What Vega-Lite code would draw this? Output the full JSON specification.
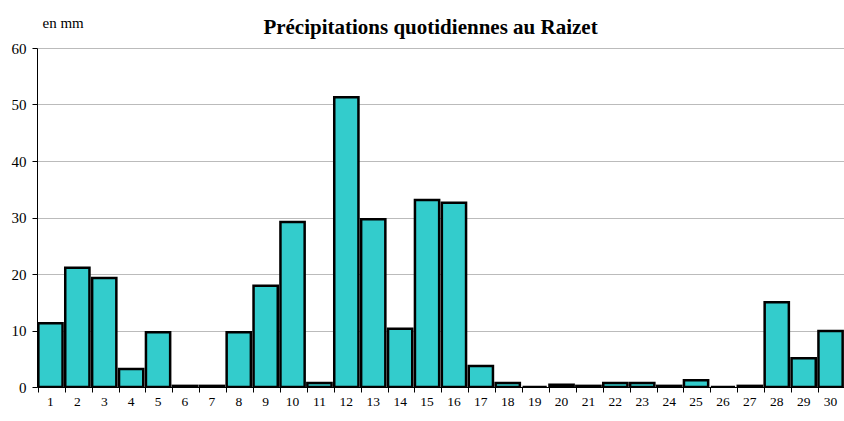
{
  "$schema": "https://vega.github.io/schema/vega-lite/v6.json",
  "width": 807,
  "height": 339,
  "autosize": {"type": "none"},
  "padding": {"left": 37, "top": 48, "right": 0, "bottom": 34},
  "background": "white",
  "config": {
    "view": {"stroke": null},
    "font": "Liberation Serif"
  },
  "title": {
    "text": "Précipitations quotidiennes au Raizet",
    "font": "Liberation Serif",
    "fontSize": 21,
    "fontWeight": "bold",
    "color": "black",
    "anchor": "middle",
    "offset": -23,
    "dx": -10
  },
  "data": {
    "values": [
      {"jour": "1", "mm": 11.3},
      {"jour": "2", "mm": 21.1},
      {"jour": "3", "mm": 19.3},
      {"jour": "4", "mm": 3.2},
      {"jour": "5", "mm": 9.7},
      {"jour": "6", "mm": 0.2},
      {"jour": "7", "mm": 0.2},
      {"jour": "8", "mm": 9.7},
      {"jour": "9", "mm": 17.9},
      {"jour": "10", "mm": 29.2},
      {"jour": "11", "mm": 0.7},
      {"jour": "12", "mm": 51.3},
      {"jour": "13", "mm": 29.7},
      {"jour": "14", "mm": 10.3},
      {"jour": "15", "mm": 33.1},
      {"jour": "16", "mm": 32.6},
      {"jour": "17", "mm": 3.7},
      {"jour": "18", "mm": 0.7},
      {"jour": "19", "mm": 0},
      {"jour": "20", "mm": 0.4},
      {"jour": "21", "mm": 0.2},
      {"jour": "22", "mm": 0.7},
      {"jour": "23", "mm": 0.7},
      {"jour": "24", "mm": 0.2},
      {"jour": "25", "mm": 1.2},
      {"jour": "26", "mm": 0},
      {"jour": "27", "mm": 0.2},
      {"jour": "28", "mm": 15.0},
      {"jour": "29", "mm": 5.1},
      {"jour": "30", "mm": 9.9}
    ]
  },
  "resolve": {"axis": {"x": "independent"}},
  "layer": [
    {
      "mark": {"type": "bar", "fill": "#33CCCC", "stroke": "black", "strokeWidth": 2.5, "clip": true},
      "encoding": {
        "x": {
          "field": "jour", "type": "ordinal", "sort": null,
          "scale": {"paddingInner": 0.1, "paddingOuter": 0.05},
          "axis": {
            "orient": "bottom", "title": null, "labelAngle": 0,
            "ticks": false, "domain": true, "domainColor": "black", "domainWidth": 1,
            "labelFont": "Liberation Serif", "labelFontSize": 13.5, "labelColor": "black",
            "labelPadding": 14, "labelBaseline": "middle", "grid": false
          }
        },
        "y": {
          "field": "mm", "type": "quantitative",
          "scale": {"domain": [0, 60], "nice": false},
          "axis": {
            "values": [0, 10, 20, 30, 40, 50, 60],
            "title": "en mm", "titleAngle": 0, "titleX": 5, "titleY": -26,
            "titleAlign": "left", "titleBaseline": "middle",
            "titleFont": "Liberation Serif", "titleFontSize": 15, "titleFontWeight": "normal", "titleColor": "black",
            "labelFont": "Liberation Serif", "labelFontSize": 15, "labelColor": "black",
            "labelPadding": 6, "tickSize": 5, "tickColor": "black",
            "domainColor": "black", "domainWidth": 1,
            "grid": true, "gridColor": "#BBBBBB", "gridWidth": 1
          }
        }
      }
    },
    {
      "mark": {"type": "bar", "opacity": 0},
      "encoding": {
        "x": {
          "field": "jour", "type": "ordinal", "sort": null,
          "axis": {
            "orient": "bottom", "title": null, "labels": false, "domain": false,
            "ticks": true, "tickSize": 5, "tickColor": "black", "bandPosition": 0, "grid": false
          }
        },
        "y": {"field": "mm", "type": "quantitative"}
      }
    }
  ]
}
